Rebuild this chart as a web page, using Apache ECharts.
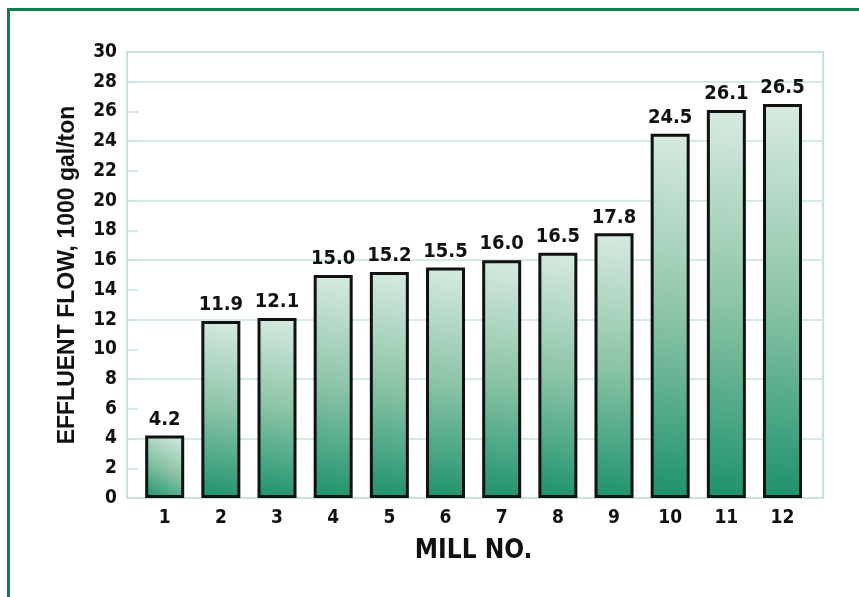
<!DOCTYPE html>
<html>
<head>
<meta charset="utf-8">
<script src="https://cdn.jsdelivr.net/npm/echarts@6/dist/echarts.min.js"></script>
<style>html,body{margin:0;padding:0;background:#fff;}#c{width:859px;height:597px;}</style>
</head>
<body>
<div id="c"></div>
<script>
const categories = ['1','2','3','4','5','6','7','8','9','10','11','12'];
const values = [4.2, 11.9, 12.1, 15.0, 15.2, 15.5, 16.0, 16.5, 17.8, 24.5, 26.1, 26.5];
const yMin = 0, yMax = 30, labelStep = 2, gridStep = 4;
const yName = 'EFFLUENT FLOW, 1000 gal/ton';
const xName = 'MILL NO.';

const narrow = '"Liberation Sans Narrow", "DejaVu Sans Condensed", sans-serif';
const frameGreen = '#c6e4d8';

const chart = echarts.init(document.getElementById('c'), null, {renderer: 'canvas'});
chart.setOption({
  animation: false,
  backgroundColor: '#ffffff',
  graphic: [{
    type: 'rect', left: 6, top: 7,
    shape: {width: 1000, height: 1000},
    style: {fill: 'none', stroke: '#12804a', lineWidth: 3}
  }],
  grid: [
    {left: 127, right: 36, top: 52, bottom: 99, show: true, borderColor: frameGreen, borderWidth: 2, backgroundColor: 'transparent'},
    {left: 136.6, right: 48.4, top: 52, bottom: 99}
  ],
  xAxis: [
    {gridIndex: 0, type: 'value', min: 0, max: 1, show: false},
    {
      gridIndex: 1, type: 'category', data: categories,
      axisLine: {show: false}, axisTick: {show: false},
      axisLabel: {margin: 11, color: '#111', fontFamily: narrow, fontWeight: 'bold', fontSize: 19},
      name: xName, nameLocation: 'middle', nameGap: 40,
      nameTextStyle: {color: '#111', fontFamily: narrow, fontWeight: 'bold', fontSize: 26}
    }
  ],
  yAxis: [
    {
      gridIndex: 0, type: 'value', min: yMin, max: yMax, interval: labelStep,
      axisLine: {show: false},
      axisTick: {show: true, inside: true, length: 11, lineStyle: {color: frameGreen, width: 1.5}},
      splitLine: {show: false},
      axisLabel: {margin: 10, color: '#111', fontFamily: narrow, fontWeight: 'bold', fontSize: 19},
      name: yName, nameLocation: 'middle', nameGap: 48, nameRotate: 90,
      nameTextStyle: {color: '#111', fontFamily: '"Liberation Sans", Arial, sans-serif', fontWeight: 'bold', fontSize: 23}
    },
    {
      gridIndex: 0, type: 'value', min: yMin, max: yMax, interval: gridStep,
      axisLine: {show: false}, axisTick: {show: false}, axisLabel: {show: false},
      splitLine: {show: true, lineStyle: {color: frameGreen, width: 1.5}}
    },
    {gridIndex: 1, type: 'value', min: yMin, max: yMax, show: false}
  ],
  series: [{
    type: 'bar', xAxisIndex: 1, yAxisIndex: 2,
    data: values, barWidth: 39,
    itemStyle: {
      borderColor: '#111', borderWidth: 3,
      color: new echarts.graphic.LinearGradient(1, 0, 0, 1, [
        {offset: 0, color: '#d8ebe1'},
        {offset: 0.5, color: '#8cc4a8'},
        {offset: 1, color: '#1c926b'}
      ])
    },
    label: {
      show: true, position: 'top', distance: 6,
      formatter: p => p.value.toFixed(1),
      color: '#111', fontFamily: narrow, fontWeight: 'bold', fontSize: 20
    }
  }]
});
</script>
</body>
</html>
